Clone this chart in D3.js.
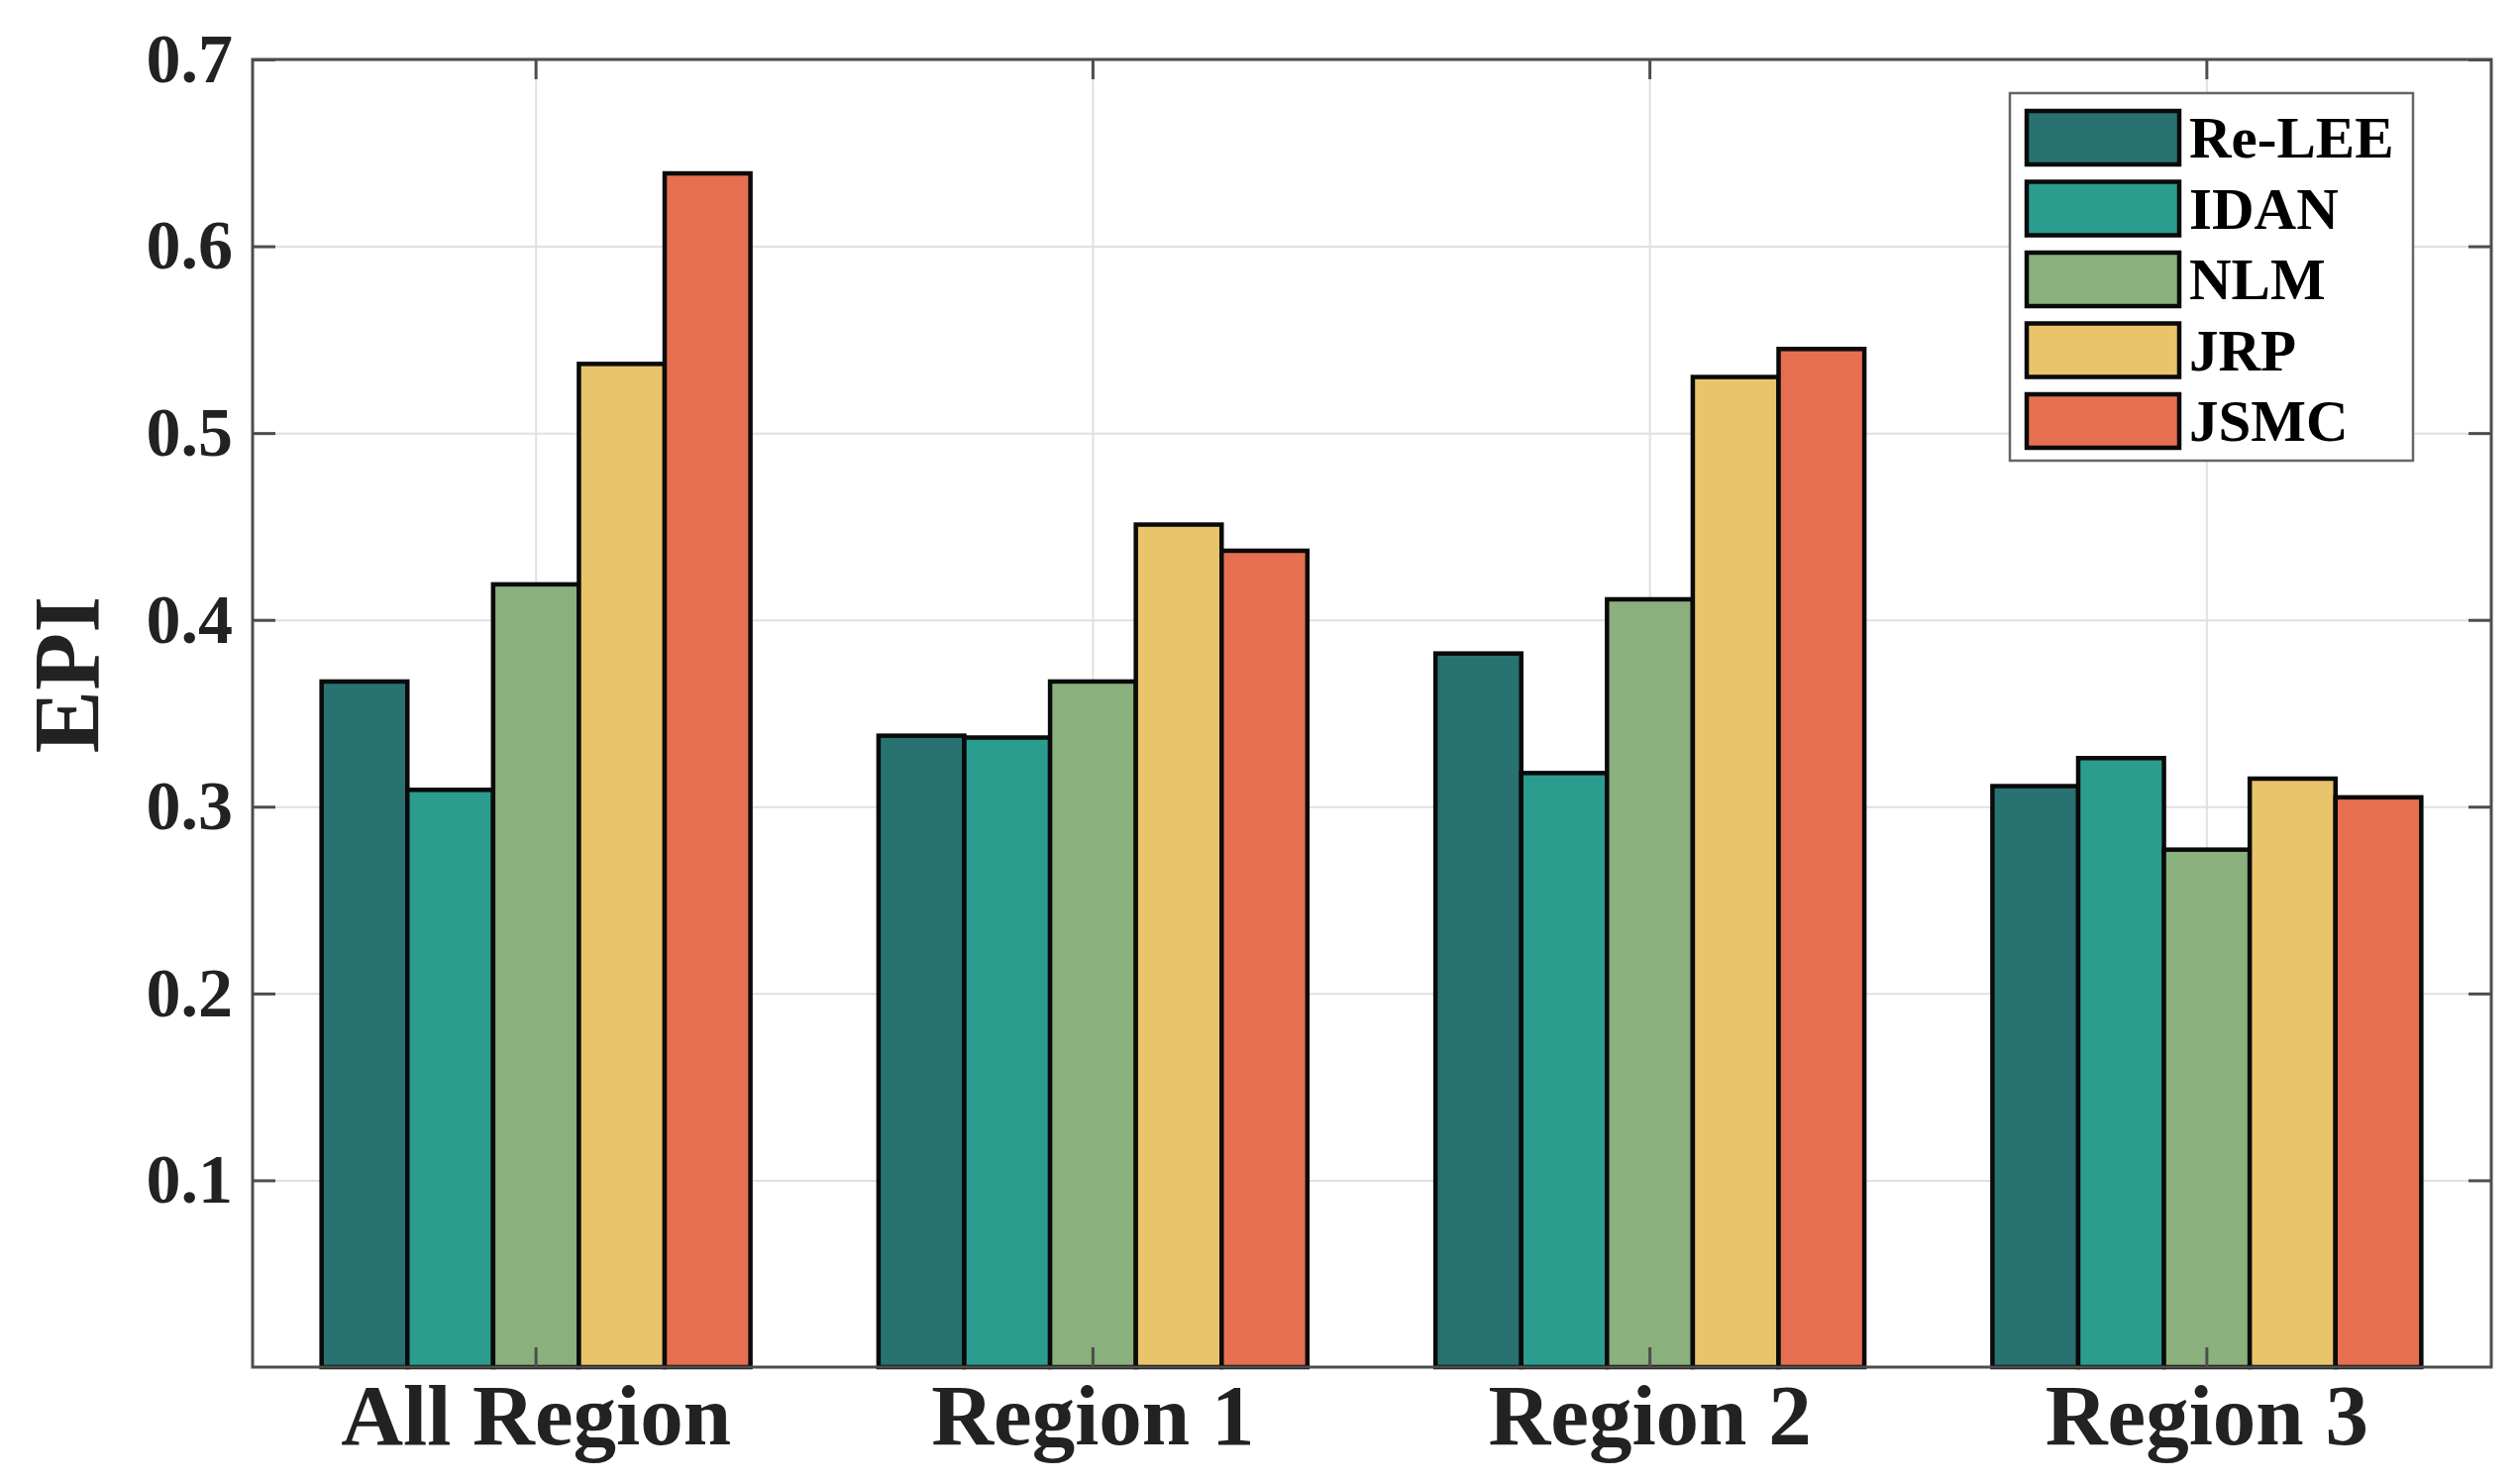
<!DOCTYPE html>
<html>
<head>
<meta charset="utf-8">
<script src="https://cdn.jsdelivr.net/npm/d3@7"></script>
<style>
  body { margin: 0; background: #fff; }
  svg { display: block; }
</style>
</head>
<body>
<div id="chart"></div>
<script>
// ---- data ----
var regions = ["All Region", "Region 1", "Region 2", "Region 3"];
var methods = ["Re-LEE", "IDAN", "NLM", "JRP", "JSMC"];
var colors = ["#287271", "#2a9d8f", "#8ab17d", "#e9c46a", "#e76f51"];
var reLee = [0.367, 0.338, 0.382, 0.311];
var idan  = [0.309, 0.337, 0.318, 0.326];
var nlm   = [0.419, 0.367, 0.411, 0.277];
var jrp   = [0.537, 0.451, 0.530, 0.315];
var jsmc  = [0.639, 0.437, 0.545, 0.305];
var yTicks = [0.1, 0.2, 0.3, 0.4, 0.5, 0.6, 0.7];

var series = [reLee, idan, nlm, jrp, jsmc];

var W = 2544, H = 1497;
var margin = { left: 255, right: 29, top: 60, bottom: 117 };
var innerW = W - margin.left - margin.right;
var innerH = H - margin.top - margin.bottom;
var font = "'Liberation Serif', 'Times New Roman', serif";

var svg = d3.select("#chart").append("svg")
    .attr("width", W)
    .attr("height", H);

var g = svg.append("g")
    .attr("transform", "translate(" + margin.left + "," + margin.top + ")");

var x0 = d3.scaleBand().domain(regions).range([5, innerW - 6]);
var groupW = x0.bandwidth() * 0.77;
var x1 = d3.scaleBand().domain(methods)
    .range([(x0.bandwidth() - groupW) / 2, (x0.bandwidth() + groupW) / 2]);
var y = d3.scaleLinear().domain([0, 0.7]).range([innerH, 0]);

/*********** GRID ************/
g.append("g")
    .attr("class", "grid")
    .call(d3.axisLeft(y).tickValues(yTicks).tickSize(-innerW).tickFormat(""))
    .call(s => s.select(".domain").remove())
    .selectAll("line")
    .attr("stroke", "#e0e0e0")
    .attr("stroke-width", 2);

g.append("g")
    .attr("class", "grid")
    .attr("transform", "translate(0," + innerH + ")")
    .call(d3.axisBottom(x0).tickSize(-innerH).tickFormat(""))
    .call(s => s.select(".domain").remove())
    .selectAll("line")
    .attr("stroke", "#e0e0e0")
    .attr("stroke-width", 2);

/*********** BARS ************/
var rows = regions.map((r, i) => ({ region: r, vals: series.map(s => s[i]) }));

var groups = g.selectAll(".grp")
    .data(rows)
    .enter().append("g")
    .attr("class", "grp")
    .attr("transform", d => "translate(" + x0(d.region) + ",0)");

groups.selectAll("rect")
    .data(d => d.vals.map((v, j) => ({ m: methods[j], v: v, c: colors[j] })))
    .enter().append("rect")
    .attr("x", d => x1(d.m))
    .attr("width", x1.bandwidth())
    .attr("y", d => y(d.v))
    .attr("height", d => innerH - y(d.v))
    .attr("fill", d => d.c)
    .attr("stroke", "#0a0a0a")
    .attr("stroke-width", 4.5);

/*********** AXES (box with inward ticks) ************/
var axisColor = "#4d4d4d";

var leftAxis = g.append("g")
    .call(d3.axisLeft(y).tickValues(yTicks).tickSize(-23).tickPadding(20).tickFormat(d3.format(".1f")));
var rightAxis = g.append("g")
    .attr("transform", "translate(" + innerW + ",0)")
    .call(d3.axisRight(y).tickValues(yTicks).tickSize(-23).tickFormat(""));
var bottomAxis = g.append("g")
    .attr("transform", "translate(0," + innerH + ")")
    .call(d3.axisBottom(x0).tickSize(-20).tickPadding(16));
var topAxis = g.append("g")
    .call(d3.axisTop(x0).tickSize(-20).tickFormat(""));

[leftAxis, rightAxis, bottomAxis, topAxis].forEach(a => {
    a.select(".domain").remove();
    a.selectAll(".tick line").attr("stroke", axisColor).attr("stroke-width", 3);
});

// axes box
g.append("rect")
    .attr("width", innerW)
    .attr("height", innerH)
    .attr("fill", "none")
    .attr("stroke", axisColor)
    .attr("stroke-width", 3);

leftAxis.selectAll("text")
    .style("font-family", font)
    .style("font-weight", "bold")
    .style("font-size", "70px")
    .attr("fill", "#222");

bottomAxis.selectAll("text")
    .style("font-family", font)
    .style("font-weight", "bold")
    .style("font-size", "87px")
    .attr("fill", "#222")
    .attr("dy", "0.71em");

// y axis title
svg.append("text")
    .attr("transform", "translate(100,681) rotate(-90)")
    .attr("text-anchor", "middle")
    .style("font-family", font)
    .style("font-weight", "bold")
    .style("font-size", "95px")
    .attr("fill", "#222")
    .text("EPI");

/*********** LEGEND ************/
var leg = svg.append("g").attr("transform", "translate(2029,94)");

leg.append("rect")
    .attr("width", 407)
    .attr("height", 371)
    .attr("fill", "#fff")
    .attr("stroke", "#666")
    .attr("stroke-width", 2.5);

var item = leg.selectAll(".item")
    .data(methods)
    .enter().append("g")
    .attr("class", "item")
    .attr("transform", (d, i) => "translate(17," + (18 + i * 71.5) + ")");

item.append("rect")
    .attr("width", 154)
    .attr("height", 54)
    .attr("fill", (d, i) => colors[i])
    .attr("stroke", "#0a0a0a")
    .attr("stroke-width", 4.5);

item.append("text")
    .attr("x", 164)
    .attr("y", 47)
    .style("font-family", font)
    .style("font-weight", "bold")
    .style("font-size", "59px")
    .attr("fill", "#000")
    .text(d => d);
</script>
</body>
</html>
